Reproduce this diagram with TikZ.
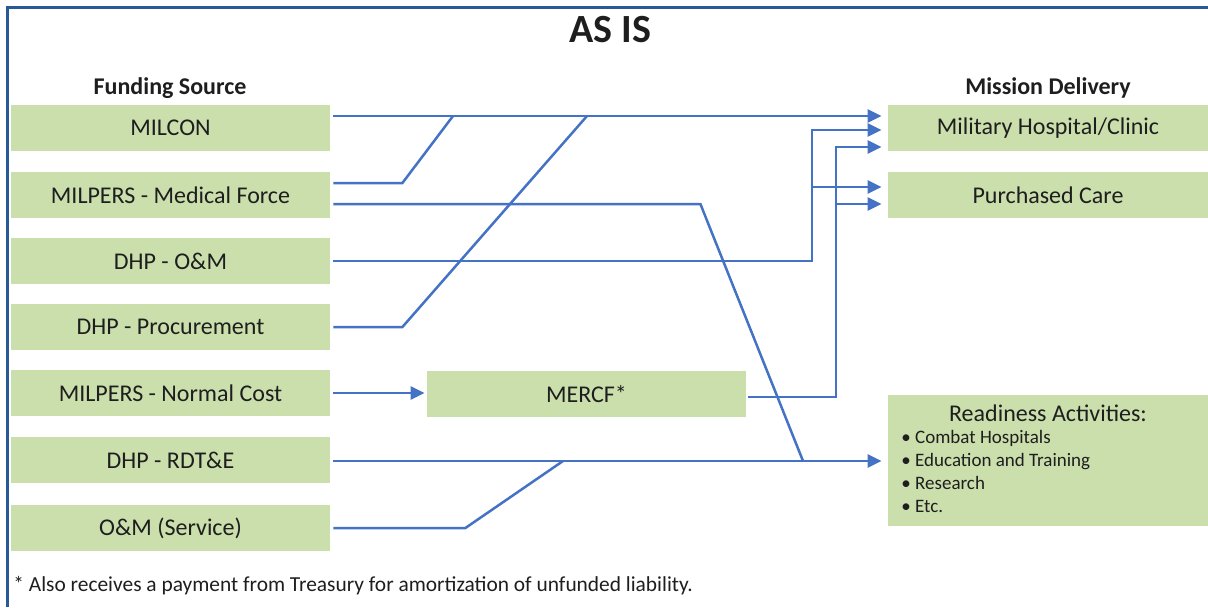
\documentclass[tikz,border=0pt]{standalone}
\usepackage{fontspec}
\setmainfont{Carlito}
\usetikzlibrary{arrows.meta,calc}
\definecolor{boxgreen}{RGB}{203,223,173}
\definecolor{lineblue}{RGB}{68,114,196}
\definecolor{framebl}{RGB}{40,90,150}
\definecolor{txt}{RGB}{30,30,30}
\begin{document}
\begin{tikzpicture}[x=0.5pt,y=-0.5pt,
  fbox/.style={fill=boxgreen, draw=none, minimum width=159.5pt, minimum height=23pt, inner sep=0pt, font=\fontsize{12}{14}\selectfont, text=txt},
  rbox/.style={fbox, minimum width=160pt},
  flow/.style={draw=lineblue, line width=1.25pt},
  arr/.style={flow, -{Triangle[length=7pt,width=6.5pt]}},
  hd/.style={font=\bfseries\fontsize{12}{14}\selectfont, text=txt},
  bul/.style={anchor=base west, font=\fontsize{9.5}{11}\selectfont, text=txt, inner sep=0pt}]
\useasboundingbox (0,0) rectangle (1208,607);
\draw[framebl, line width=1.5pt] (7,607) -- (7,7) -- (1208,7);

\node[font=\bfseries\fontsize{20}{24}\selectfont, text=txt] (title) at (610,30) {AS IS};
\node[hd] (fs) at (170,88) {Funding Source};
\node[hd] (md) at (1048,88) {Mission Delivery};

\node[fbox] (milcon) at (170.5,128) {MILCON};
\node[fbox] (med) at (170.5,195) {MILPERS - Medical Force};
\node[fbox] (om) at (170.5,261) {DHP - O\&M};
\node[fbox] (proc) at (170.5,327) {DHP - Procurement};
\node[fbox] (nc) at (170.5,393) {MILPERS - Normal Cost};
\node[fbox] (rdte) at (170.5,460) {DHP - RDT\&E};
\node[fbox] (oms) at (170.5,528) {O\&M (Service)};
\node[fbox] (mercf) at (586.5,394) {MERCF*};
\node[rbox] (hosp) at (1048,128) {Military Hospital/Clinic};
\node[rbox] (pc) at (1048,195) {Purchased Care};
\node[rbox, minimum height=65.5pt] (rd) at (1048,460.5) {};
\node[font=\fontsize{12}{14}\selectfont, text=txt] (rdt) at (1048,413) {Readiness Activities:};
\node[bul] (b1) at (901,443) {• Combat Hospitals};
\node[bul] (b2) at (901,466) {• Education and Training};
\node[bul] (b3) at (901,489) {• Research};
\node[bul] (b4) at (901,512) {• Etc.};

\node[anchor=base west, font=\fontsize{10.7}{12}\selectfont, text=txt, inner sep=0pt] (fn) at (13,591) {* Also receives a payment from Treasury for amortization of unfunded liability.};

\coordinate (j1) at (453,116);
\coordinate (j2) at (587,116);
\coordinate (j3) at (803,461);
\coordinate (j4) at (563,461);
\coordinate (omv) at (812,130);
\coordinate (omb) at (812,187);
\coordinate (mv) at (836,147);
\coordinate (mb) at (836,204);

\draw[arr] ($(milcon.east)+(3,-12)$) -- ($(hosp.west)+(-6,-12)$);
\draw[flow] ($(med.east)+(3,-12)$) -- ++(69,0) -- (j1);
\draw[flow] ($(med.east)+(3,9)$) -- ++(367,0) -- (j3);
\draw[arr] ($(om.east)+(3,0)$) -| (omv) -- ($(hosp.west)+(-6,2)$);
\draw[arr] (omb) -- ($(pc.west)+(-6,-8)$);
\draw[flow] ($(proc.east)+(3,0)$) -- ++(69,0) -- (j2);
\draw[arr] ($(nc.east)+(3,0)$) -- ($(mercf.west)+(-2,-1)$);
\draw[arr] ($(mercf.east)+(2,3)$) -| (mv) -- ($(hosp.west)+(-6,19)$);
\draw[arr] (mb) -- ($(pc.west)+(-6,9)$);
\draw[arr] ($(rdte.east)+(3,1)$) -- ($(rd.west)+(-6,0.5)$);
\draw[flow] ($(oms.east)+(3,0)$) -- ++(132,0) -- (j4);
\end{tikzpicture}
\end{document}
